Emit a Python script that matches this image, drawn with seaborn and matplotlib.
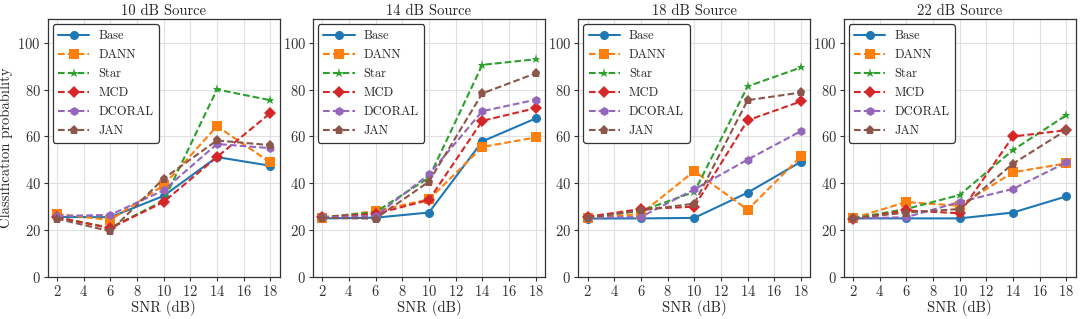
import numpy as np
import pandas as pd
import matplotlib
matplotlib.use('Agg')
import matplotlib.pyplot as plt
import seaborn as sns

snr = [2, 6, 10, 14, 18]
sources = ['10 dB Source', '14 dB Source', '18 dB Source', '22 dB Source']
methods = ['Base', 'DANN', 'Star', 'MCD', 'DCORAL', 'JAN']

base = [[25.6, 25.5, 34.6, 51.2, 47.5],
        [25.0, 25.3, 27.5, 57.9, 67.7],
        [24.9, 25.0, 25.2, 36.0, 49.2],
        [25.0, 25.0, 25.0, 27.5, 34.4]]
dann = [[26.9, 24.3, 39.1, 64.4, 48.9],
        [25.0, 28.2, 33.1, 55.5, 59.6],
        [25.0, 26.9, 45.2, 28.7, 51.5],
        [25.0, 32.0, 30.4, 44.7, 48.5]]
star = [[25.5, 21.0, 32.5, 80.1, 75.5],
        [25.5, 27.7, 42.4, 90.6, 93.0],
        [25.5, 28.2, 36.3, 81.4, 89.5],
        [25.0, 29.0, 35.0, 54.2, 69.1]]
mcd = [[25.5, 20.8, 32.0, 51.2, 70.0],
       [25.5, 26.9, 32.9, 66.7, 72.1],
       [25.7, 29.0, 30.0, 66.9, 75.0],
       [24.7, 28.4, 27.2, 60.0, 62.7]]
dcoral = [[26.0, 26.5, 37.0, 56.8, 55.0],
          [25.5, 26.0, 43.8, 70.8, 75.7],
          [25.3, 25.6, 37.4, 50.1, 62.3],
          [25.0, 25.5, 32.0, 37.6, 48.9]]
jan = [[24.9, 19.5, 42.0, 58.3, 56.3],
       [25.2, 24.9, 40.7, 78.4, 87.0],
       [25.2, 28.4, 31.3, 75.5, 78.8],
       [25.0, 27.5, 29.0, 48.4, 62.7]]

series = {'Base': base, 'DANN': dann, 'Star': star,
          'MCD': mcd, 'DCORAL': dcoral, 'JAN': jan}

rows = []
for i, src in enumerate(sources):
    for m in methods:
        for x, y in zip(snr, series[m][i]):
            rows.append({'source': src, 'method': m, 'snr': x, 'prob': y})
df = pd.DataFrame(rows)

sns.set_theme(style='ticks')
plt.rcParams['font.family'] = ['cmr10', 'DejaVu Serif']
plt.rcParams['mathtext.fontset'] = 'cm'
plt.rcParams['axes.formatter.use_mathtext'] = True
plt.rcParams['axes.unicode_minus'] = False

palette = dict(zip(methods, sns.color_palette('tab10', 6)))
markers = {'Base': 'o', 'DANN': 's', 'Star': '*', 'MCD': 'D', 'DCORAL': 'h', 'JAN': 'p'}
dashes = {m: (3.2, 1.5) for m in methods}
dashes['Base'] = ''

fig, axes = plt.subplots(1, 4, figsize=(10.8, 3.19), dpi=100)
fig.subplots_adjust(left=0.044, right=0.996, top=0.939, bottom=0.132, wspace=0.143)

FS = 10.5
for ax, src in zip(axes, sources):
    sub = df[df['source'] == src]
    sns.lineplot(data=sub, x='snr', y='prob', hue='method', style='method',
                 hue_order=methods, style_order=methods,
                 palette=palette, markers=markers, dashes=dashes,
                 markersize=6.5, markeredgewidth=0, linewidth=1.5, ax=ax)
    ax.set_xlim(1.3, 18.7)
    ax.set_ylim(0, 110)
    ax.set_xticks(range(2, 19, 2))
    ax.set_yticks(range(0, 101, 20))
    ax.grid(True, color='#e0e0e0', linewidth=0.8)
    ax.set_axisbelow(True)
    for s in ax.spines.values():
        s.set_color('#333333')
        s.set_linewidth(0.9)
    ax.tick_params(labelsize=FS, length=3, width=0.8, pad=2, colors='#333333')
    ax.set_title(src, fontsize=FS, pad=3)
    ax.set_xlabel('SNR (dB)', fontsize=FS, labelpad=1)
    ax.set_ylabel('')
    leg = ax.legend(loc='upper left', fontsize=9, frameon=True, fancybox=True,
                    framealpha=1, edgecolor='#333333', borderpad=0.45,
                    handlelength=2.5, handletextpad=0.7, labelspacing=0.55,
                    borderaxespad=0.4)
    leg.get_frame().set_linewidth(0.9)

axes[0].set_ylabel('Classification probability', fontsize=FS, labelpad=3)

plt.savefig('out.png', dpi=100)
